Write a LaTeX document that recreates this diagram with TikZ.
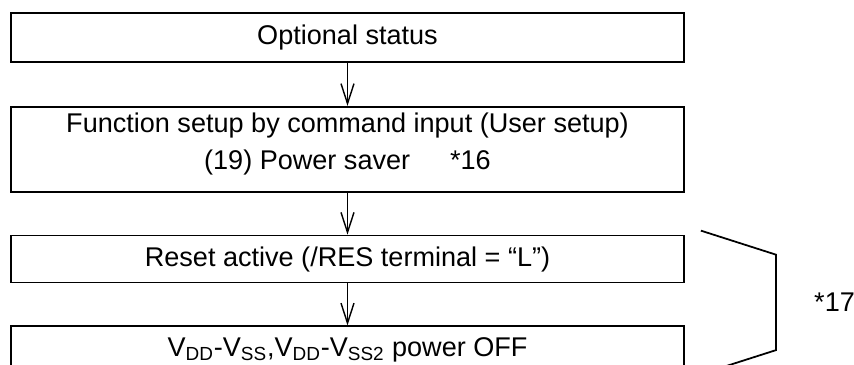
\documentclass[tikz,border=0pt]{standalone}
\usepackage{fontspec}
\setmainfont{Liberation Sans}
\usetikzlibrary{positioning,arrows.meta,calc}

\begin{document}
\begin{tikzpicture}[
  font=\fontsize{15.4}{21}\selectfont,
  >={Straight Barb[length=0.4cm,width=0.26cm]},
  node distance=0.84cm,
  stage/.style={draw, line width=1pt, minimum width=13.46cm, minimum height=0.94cm, align=center, inner sep=0pt},
  link/.style={->, line width=0.8pt},
  bracket/.style={line width=1pt},
]
\useasboundingbox (0,0) rectangle (17.08,-7.3);
\clip (0,0) rectangle (17.08,-7.3);

% Stages
\node[stage, minimum height=0.98cm] (optional) at (6.95,-0.75) {Optional status};
\node[stage, minimum height=1.7cm, text depth=0.34cm, below=0.86cm of optional] (setup)
  {Function setup by command input (User setup)\\(19) Power saver\hspace{1.2em} *16};
\node[stage, below=of setup] (reset) {Reset active (/RES terminal = “L”)};
\node[stage, below=of reset] (poweroff)
  {V\textsubscript{DD}-V\textsubscript{SS},V\textsubscript{DD}-V\textsubscript{SS2} power OFF};

% Flow
\draw[link] (optional) -- (setup);
\draw[link] (setup) -- (reset);
\draw[link] (reset) -- (poweroff);

% Bracket *17
\coordinate (brtop) at ($(reset.north east)+(0.32,0.08)$);
\coordinate (brbot) at ($(poweroff.south east)+(0.32,0)$);
\draw[bracket] (brtop) -- ++(1.5,-0.48) -- ($(brbot)+(1.5,0.48)$) -- (brbot);
\node[anchor=west, inner sep=0pt] (note) at ($(brtop)!0.5!(brbot)+(2.26,0)$) {*17};

\end{tikzpicture}
\end{document}
